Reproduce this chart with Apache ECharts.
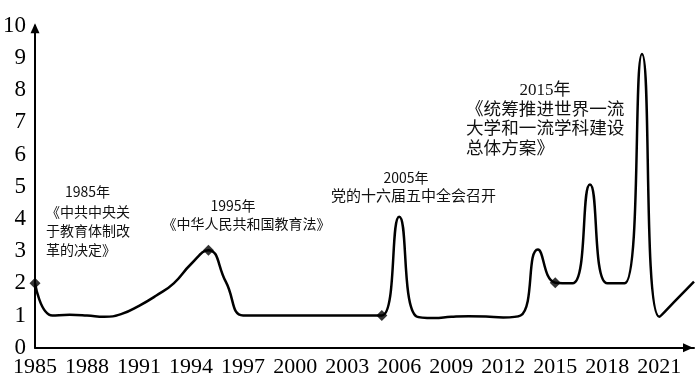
<!DOCTYPE html>
<html><head><meta charset="utf-8">
<script src="https://cdn.jsdelivr.net/npm/echarts@6/dist/echarts.min.js"></script>
<style>html,body{margin:0;padding:0;background:#fff}#c{width:700px;height:385px}</style>
</head><body><div id="c"></div>
<script>
// Data
const years = [1985,1986,1987,1988,1989,1990,1991,1992,1993,1994,1995,1996,1997,1998,1999,2000,2001,2002,2003,2004,2005,2006,2007,2008,2009,2010,2011,2012,2013,2014,2015,2016,2017,2018,2019,2020,2021,2022,2023];
const values = [2.0,1.0,1.02,1.0,0.96,1.05,1.3,1.62,2.0,2.6,3.03,2.05,1.0,1.0,1.0,1.0,1.0,1.0,1.0,1.0,1.0,4.07,0.97,0.92,0.96,0.98,0.97,0.94,1.0,3.05,2.02,2.0,5.07,2.0,2.0,9.12,0.96,1.5,2.05];
const markerYears = [1985,1995,2005,2015];
const xTickLabels = ['1985','1988','1991','1994','1997','2000','2003','2006','2009','2012','2015','2018','2021'];
const yTickLabels = ['0','1','2','3','4','5','6','7','8','9','10'];
const annotations = [
  {lines: ['1985年'], align: 'center'},
  {lines: ['《中共中央关','于教育体制改','革的决定》'], align: 'left'},
  {lines: ['1995年'], align: 'center'},
  {lines: ['《中华人民共和国教育法》'], align: 'center'},
  {lines: ['2005年'], align: 'center'},
  {lines: ['党的十六届五中全会召开'], align: 'center'},
  {lines: ['2015年'], align: 'center'},
  {lines: ['《统筹推进世界一流','大学和一流学科建设','总体方案》'], align: 'left'}
];

const cats = years.map(String);
const markerData = markerYears.map(y => [String(y), values[years.indexOf(y)]]);

// annotation layout (pixel positions of text blocks)
const annLayout = [
  {x: 87.5, y: 192, lh: 19, font: '14px "Noto Sans CJK SC"'},
  {x: 46, y: 212, lh: 19, font: '14px "Noto Sans CJK SC"'},
  {x: 233, y: 206, lh: 18, font: '14px "Noto Sans CJK SC"'},
  {x: 246.5, y: 224, lh: 18, font: '14px "Noto Sans CJK SC"'},
  {x: 406, y: 177.5, lh: 18, font: '14px "Noto Sans CJK SC"'},
  {x: 413.5, y: 195, lh: 18, font: '15px "Noto Sans CJK SC"'},
  {x: 545, y: 91, lh: 20, font: '17px "Liberation Serif","Noto Sans CJK SC"'},
  {x: 466, y: 110, lh: 19.7, font: '17.6px "Liberation Serif","Noto Sans CJK SC"'}
];
const graphics = [];
annotations.forEach((a, i) => {
  const L = annLayout[i];
  a.lines.forEach((t, j) => {
    graphics.push({
      type: 'text', x: L.x, y: L.y + j * L.lh, silent: true,
      style: {text: t, font: L.font, fill: '#111', align: a.align, verticalAlign: 'middle', textAlign: a.align, textVerticalAlign: 'middle'}
    });
  });
});

const chart = echarts.init(document.getElementById('c'), null, {renderer: 'canvas'});
chart.setOption({
  animation: false,
  backgroundColor: '#fff',
  grid: {left: 35, right: 6, top: 25.7, bottom: 37.3, containLabel: false, outerBoundsMode: 'none'},
  xAxis: {
    type: 'category', data: cats, boundaryGap: false,
    axisLine: {show: true, lineStyle: {color: '#000', width: 2}, symbol: ['none', 'triangle'], symbolSize: [9, 10], symbolOffset: [0, -6]},
    axisTick: {show: false},
    splitLine: {show: false},
    axisLabel: {
      interval: 0, margin: 9, color: '#000', fontFamily: 'Liberation Serif', fontSize: 22,
      formatter: v => xTickLabels.includes(v) ? v : ''
    }
  },
  yAxis: {
    type: 'value', min: 0, max: 10, interval: 1,
    axisLine: {show: true, lineStyle: {color: '#000', width: 2}, symbol: ['none', 'triangle'], symbolSize: [9, 10], symbolOffset: [0, -2.5]},
    axisTick: {show: false},
    splitLine: {show: false},
    axisLabel: {margin: 9, color: '#000', fontFamily: 'Liberation Serif', fontSize: 23,
      formatter: v => yTickLabels[Math.round(v)]}
  },
  series: [
    {type: 'line', data: values, smooth: 0.5, symbol: 'none', lineStyle: {color: '#000', width: 2.5}, z: 2},
    {type: 'scatter', data: markerData, symbol: 'diamond', symbolSize: 11, itemStyle: {color: '#000'}, z: 3}
  ],
  graphic: graphics
});
</script>
</body></html>
